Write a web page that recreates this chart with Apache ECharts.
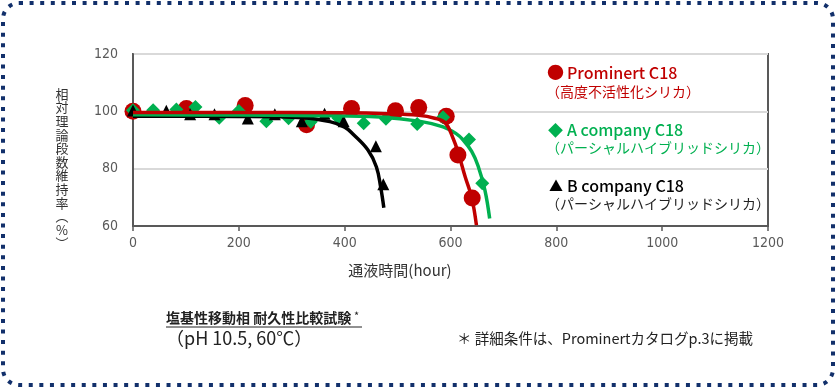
<!DOCTYPE html>
<html><head><meta charset="utf-8">
<script src="https://cdn.jsdelivr.net/npm/echarts@6/dist/echarts.min.js"></script>
<style>html,body{margin:0;padding:0;background:#fff}#c{width:836px;height:388px}</style>
</head><body><div id="c"></div>
<script>
// ---- data ----
const xTicks = [0, 200, 400, 600, 800, 1000, 1200];
const yTicks = [60, 80, 100, 120];
const seriesNames = ['Prominert C18', 'A company C18', 'B company C18'];
const seriesNotes = ['（高度不活性化シリカ）', '（パーシャルハイブリッドシリカ）', '（パーシャルハイブリッドシリカ）'];

const promHours = [0, 101, 212, 328, 413, 496, 540, 592, 614, 641];
const promValues = [100, 101, 102, 95.3, 101, 100.2, 101.3, 98.3, 84.8, 69.8];
const aHours = [0, 38, 82, 118, 163, 200, 252, 294, 336, 388, 436, 478, 537, 586, 635, 660];
const aValues = [100.4, 100.4, 100.6, 101.5, 97.8, 100.1, 96.5, 97.6, 96.4, 97.7, 95.8, 97.4, 95.6, 97.9, 90.2, 74.9];
const bHours = [0, 63, 108, 154, 217, 268, 319, 362, 398, 459, 473];
const bValues = [100.3, 100.2, 99.0, 99.0, 97.5, 99.0, 96.5, 99.2, 96.5, 87.8, 74.6];

// fitted trend curves
const promFitHours = [0, 200, 400, 480, 540, 570, 590, 605, 615, 628, 640, 649];
const promFitValues = [99.6, 99.6, 99.5, 99.2, 98.6, 97.6, 96.0, 90.5, 85.3, 77, 70, 60.3];
const aFitHours = [0, 200, 350, 466, 543, 586, 610, 624, 640, 652, 665, 674];
const aFitValues = [98.8, 98.7, 98.5, 98.0, 96.5, 94.6, 92.3, 90, 86, 81, 72.5, 62.6];
const bFitHours = [0, 200, 321, 372, 400, 416, 444, 460, 468, 474];
const bFitValues = [98.3, 98.2, 97.8, 96.4, 94.5, 92, 86.5, 80.6, 73.6, 66.4];

const yAxisTitle = '相対理論段数維持率（%）';
const xAxisTitle = '通液時間(hour)';
const noteTitle = '塩基性移動相 耐久性比較試験';
const noteCond = '（pH 10.5, 60℃）';
const noteDetail = '＊ 詳細条件は、Prominertカタログp.3に掲載';

// ---- chart ----
const RED = '#c00000', GREEN = '#00b050', BLACK = '#000000';
const JP = '"Noto Sans CJK JP", "Noto Sans", sans-serif';
const NUM = '"Liberation Sans Narrow", "DejaVu Sans Condensed", "Liberation Sans", sans-serif';
const zip = (a, b) => a.map((v, i) => [v, b[i]]);

const chart = echarts.init(document.getElementById('c'), null, {renderer: 'canvas'});

const vertTitle = yAxisTitle.replace('（', '︵').replace('）', '︶').split('').join('\n');

const option = {
  animation: false,
  backgroundColor: '#fff',
  grid: {left: 133, right: 68, top: 54, bottom: 162, show: true, borderColor: '#595959', borderWidth: 2, backgroundColor: 'transparent'},
  xAxis: {
    type: 'value', min: xTicks[0], max: xTicks[xTicks.length - 1], interval: 200,
    axisLine: {lineStyle: {color: '#595959', width: 2}},
    axisTick: {show: true, length: 5, lineStyle: {color: '#595959', width: 1.5}},
    axisLabel: {color: '#595959', fontSize: 14, fontFamily: NUM, margin: 10, formatter: v => String(v)},
    splitLine: {show: false}
  },
  yAxis: {
    type: 'value', min: yTicks[0], max: yTicks[yTicks.length - 1], interval: 20,
    axisLine: {show: true, lineStyle: {color: '#595959', width: 2}},
    axisTick: {show: false},
    axisLabel: {color: '#595959', fontSize: 14, fontFamily: NUM, margin: 15, formatter: v => String(v)},
    splitLine: {show: true, lineStyle: {color: '#d9d9d9', width: 2}}
  },
  series: [
    {type: 'scatter', name: seriesNames[0], data: zip(promHours, promValues), symbol: 'circle', symbolSize: 17, itemStyle: {color: RED, opacity: 1}, z: 2},
    {type: 'scatter', name: seriesNames[1], data: zip(aHours, aValues), symbol: 'diamond', symbolSize: 14, itemStyle: {color: GREEN, opacity: 1}, z: 3},
    {type: 'scatter', name: seriesNames[2], data: zip(bHours, bValues), symbol: 'triangle', symbolSize: 12, itemStyle: {color: BLACK, opacity: 1}, z: 4},
    {type: 'line', data: zip(bFitHours, bFitValues), smooth: 0.4, showSymbol: false, lineStyle: {color: BLACK, width: 3.5}, z: 5, silent: true},
    {type: 'line', data: zip(aFitHours, aFitValues), smooth: 0.4, showSymbol: false, lineStyle: {color: GREEN, width: 3.5}, z: 6, silent: true},
    {type: 'line', data: zip(promFitHours, promFitValues), smooth: 0.4, showSymbol: false, lineStyle: {color: RED, width: 3.5}, z: 7, silent: true}
  ],
  graphic: [
    {type: 'rect', shape: {x: 3, y: 3, width: 830, height: 382, r: 16}, style: {fill: 'none', stroke: '#12306b', lineWidth: 4, lineDash: [4, 6.6]}, silent: true, z: 10},
    {type: 'text', style: {x: 62, y: 87, text: vertTitle, font: '13px ' + JP, fill: '#333', textAlign: 'center', textVerticalAlign: 'top', lineHeight: 13.6}},
    {type: 'text', style: {x: 400, y: 270, text: xAxisTitle, font: '15px ' + JP, fill: '#333', textAlign: 'center', textVerticalAlign: 'middle'}},
    // legend
    {type: 'text', style: {x: 547, y: 73, text: '●', font: '17px ' + JP, fill: RED, textVerticalAlign: 'middle'}},
    {type: 'text', style: {x: 567, y: 73, text: seriesNames[0], font: '500 16px ' + JP, fill: RED, textVerticalAlign: 'middle'}},
    {type: 'text', style: {x: 546, y: 92, text: seriesNotes[0], font: '14px ' + JP, fill: RED, textVerticalAlign: 'middle'}},
    {type: 'text', style: {x: 548, y: 130, text: '◆', font: '15px ' + JP, fill: GREEN, textVerticalAlign: 'middle'}},
    {type: 'text', style: {x: 567, y: 130, text: seriesNames[1], font: '500 16px ' + JP, fill: GREEN, textVerticalAlign: 'middle'}},
    {type: 'text', style: {x: 546, y: 148, text: seriesNotes[1], font: '14px ' + JP, fill: GREEN, textVerticalAlign: 'middle'}},
    {type: 'text', style: {x: 549, y: 186, text: '▲', font: '14px ' + JP, fill: BLACK, textVerticalAlign: 'middle'}},
    {type: 'text', style: {x: 567, y: 186, text: seriesNames[2], font: '500 16px ' + JP, fill: BLACK, textVerticalAlign: 'middle'}},
    {type: 'text', style: {x: 546, y: 204, text: seriesNotes[2], font: '14px ' + JP, fill: '#222', textVerticalAlign: 'middle'}},
    // notes
    {type: 'text', style: {x: 166, y: 318, text: noteTitle, font: '600 14px ' + JP, fill: '#222', textVerticalAlign: 'middle'}},
    {type: 'text', style: {x: 354, y: 316, text: '*', font: '11px ' + JP, fill: '#222', textVerticalAlign: 'middle'}},
    {type: 'line', shape: {x1: 166, y1: 327, x2: 362, y2: 327}, style: {stroke: '#222', lineWidth: 1}},
    {type: 'text', style: {x: 166, y: 338, text: noteCond, font: '18px ' + JP, fill: '#222', textVerticalAlign: 'middle'}},
    {type: 'text', style: {x: 457, y: 338, text: noteDetail, font: '14.5px ' + JP, fill: '#222', textVerticalAlign: 'middle'}}
  ]
};
chart.setOption(option);
</script></body></html>
